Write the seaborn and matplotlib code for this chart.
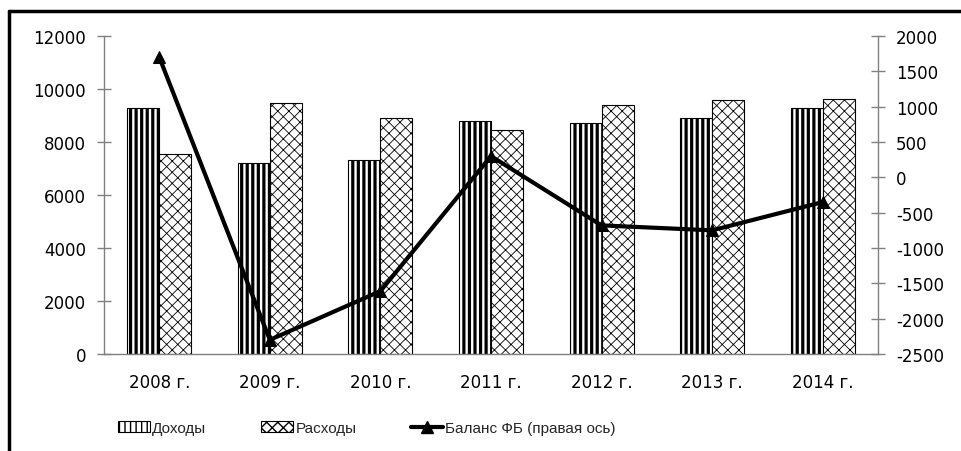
import matplotlib
matplotlib.use("Agg")
import matplotlib.pyplot as plt
import numpy as np
import pandas as pd
import seaborn as sns
from matplotlib.lines import Line2D
from matplotlib.patches import Patch

years = ["2008 г.", "2009 г.", "2010 г.", "2011 г.", "2012 г.", "2013 г.", "2014 г."]
income = [9276, 7196, 7309, 8792, 8717, 8894, 9283]
expense = [7560, 9460, 8894, 8453, 9385, 9585, 9611]
balance = [1700, -2300, -1610, 300, -680, -750, -350]

income_name = "Доходы"
expense_name = "Расходы"
balance_name = "Баланс ФБ (правая ось)"

sns.set_theme(style="white")
plt.rcParams["font.family"] = ["DejaVu Sans"]
plt.rcParams["axes.unicode_minus"] = False

legend_font = {"family": ["Liberation Sans", "DejaVu Sans"], "size": 11}

df = pd.DataFrame({
    "year": years * 2,
    "value": income + expense,
    "series": [income_name] * len(years) + [expense_name] * len(years),
})

fig = plt.figure(figsize=(9.61, 4.52), dpi=100)
ax = fig.add_axes([104 / 961, 1 - 355 / 452, 774 / 961, 318 / 452])

sns.barplot(data=df, x="year", y="value", hue="series", palette=["white", "white"],
            width=0.58, gap=0, dodge=True, edgecolor="black", linewidth=0.8,
            legend=False, ax=ax)

hatch_styles = {0: ("|||", 2.3), 1: ("xxx", 0.6)}
for i, cont in enumerate(ax.containers):
    h, lw = hatch_styles[i]
    for p in cont:
        p.set_hatch(h)
        if hasattr(p, "set_hatch_linewidth"):
            p.set_hatch_linewidth(lw)
        else:
            p._hatch_linewidth = lw

tick_font = 12
ax.set_ylim(0, 12000)
ax.set_yticks(np.arange(0, 12001, 2000))
ax.set_xlim(-0.5, len(years) - 0.5)
ax.set_xlabel("")
ax.set_ylabel("")
ax.set_xticks(np.arange(len(years)))
ax.set_xticklabels(years)
ax.set_xticks(np.arange(-0.5, len(years)), minor=True)
ax.tick_params(axis="x", which="major", length=0, pad=14, labelsize=tick_font, labelcolor="black")
ax.tick_params(axis="x", which="minor", length=6, direction="out", color="#808080", width=1)
ax.tick_params(axis="y", length=10, direction="inout", color="#808080", width=1, pad=8,
               labelsize=tick_font, labelcolor="black")

ax2 = ax.twinx()
sns.lineplot(x=np.arange(len(years)), y=balance, color="black", linewidth=3,
             marker="^", markersize=9, markeredgecolor="black", ax=ax2)
ax2.set_ylim(-2500, 2000)
ax2.set_yticks(np.arange(-2500, 2001, 500))
ax2.tick_params(axis="y", length=10, direction="inout", color="#808080", width=1, pad=8,
                labelsize=tick_font, labelcolor="black")
ax2.set_ylabel("")
ax2.set_xlim(-0.5, len(years) - 0.5)

for a in (ax, ax2):
    a.spines["top"].set_visible(False)
    for side in ("left", "right", "bottom"):
        a.spines[side].set_color("#808080")
        a.spines[side].set_linewidth(1)
ax.spines["right"].set_visible(False)
ax2.spines["left"].set_visible(False)
ax2.spines["bottom"].set_visible(False)

h1 = Patch(facecolor="white", edgecolor="black", hatch="|||", linewidth=0.8)
h2 = Patch(facecolor="white", edgecolor="black", hatch="xxx", linewidth=0.8)
h3 = Line2D([0], [0], color="black", lw=3, marker="^", markersize=9)
fig.legend([h1, h2, h3], [income_name, expense_name, balance_name], ncol=3,
           loc="center left", bbox_to_anchor=(118 / 961, 1 - 429 / 452),
           frameon=False, handlelength=2.1, handletextpad=0.13,
           columnspacing=3.6, borderpad=0, borderaxespad=0, prop=legend_font,
           handleheight=0.75)

# outer frame (top and left edges)
fig.add_artist(Line2D([9 / 961, 1], [1 - 12 / 452, 1 - 12 / 452], color="black", lw=2.5,
                      transform=fig.transFigure))
fig.add_artist(Line2D([9 / 961, 9 / 961], [0, 1 - 12 / 452], color="black", lw=2.5,
                      transform=fig.transFigure))

fig.savefig("out.png", dpi=100)
